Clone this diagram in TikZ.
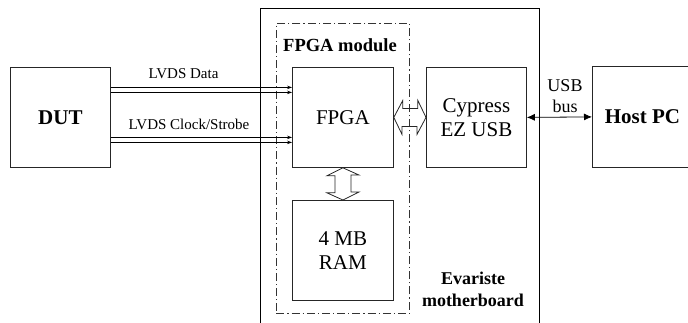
\documentclass[tikz,border=0pt]{standalone}
\usepackage{fontspec}
\setmainfont{Liberation Serif}
\usetikzlibrary{arrows.meta,calc}
\begin{document}
\begin{tikzpicture}[x=1pt,y=-1pt,
  blk/.style={draw=black!85,line width=0.8pt,anchor=north west,inner sep=0pt,align=center},
  lvds/.style={line width=0.6pt,-{Stealth[length=5pt,width=3.5pt]}},
  hollow/.style={draw=black!85,line width=0.8pt,line join=miter},
  lbl/.style={font=\fontsize{15}{17}\selectfont,inner sep=0pt}]
\useasboundingbox (0,0) rectangle (688,322);
\clip (0,0) rectangle (688,322);
% boxes
\node[blk,minimum width=100pt,minimum height=100pt,font=\fontsize{21}{23}\selectfont\bfseries] (dut) at (10,67) {DUT};
\node[draw=black,line width=1.3pt,anchor=north west,minimum width=279pt,minimum height=330pt,inner sep=0pt] (mb) at (260,8) {};
\node[draw=black!80,line width=0.8pt,dash pattern=on 8pt off 3pt on 1.2pt off 3pt,anchor=north west,minimum width=133pt,minimum height=290pt,inner sep=0pt] (mod) at (276,23) {};
\node[blk,minimum width=101pt,minimum height=100pt,font=\fontsize{21}{23}\selectfont] (fpga) at (292,67) {FPGA};
\node[blk,minimum width=101pt,minimum height=100pt,font=\fontsize{21}{24}\selectfont] (ram) at (292,200) {4 MB\\RAM};
\node[blk,minimum width=100pt,minimum height=100pt,font=\fontsize{21}{24}\selectfont] (cyp) at (426,67) {Cypress\\EZ USB};
\node[blk,minimum width=100pt,minimum height=101pt,font=\fontsize{21}{23}\selectfont\bfseries] (host) at (592,66) {Host PC};
% labels
\node[font=\fontsize{18.5}{20}\selectfont\bfseries,inner sep=0pt] (modlbl) at (340,45) {FPGA module};
\node[font=\fontsize{18}{22}\selectfont\bfseries,inner sep=0pt,align=center] (mblbl) at (473,289) {Evariste\\motherboard};
% LVDS lines
\path (dut.east) ++(0,-30) coordinate (d1) ++(0,5) coordinate (d2);
\path (dut.east) ++(0,20) coordinate (c1) ++(0,5) coordinate (c2);
\draw[lvds] (d1) -- (d1 -| fpga.west);
\draw[lvds] (d2) -- (d2 -| fpga.west);
\draw[lvds] (c1) -- (c1 -| fpga.west);
\draw[lvds] (c2) -- (c2 -| fpga.west);
\node[lbl] (l1) at (183.5,74) {LVDS Data};
\node[lbl] (l2) at (189,124) {LVDS Clock/Strobe};
% hollow arrows
\draw[hollow] (fpga.east) -- ++(9,-17) -- ++(0,8) -- ++(15,0) -- ++(0,-8) -- (cyp.west) -- ++(-9,17) -- ++(0,-8) -- ++(-15,0) -- ++(0,8) -- cycle;
\draw[hollow] (fpga.south) -- ++(-16,8) -- ++(8,0) -- ++(0,17) -- ++(-8,0) -- (ram.north) -- ++(16,-8) -- ++(-8,0) -- ++(0,-17) -- ++(8,0) -- cycle;
% USB
\draw[line width=0.8pt,{Latex[length=8pt,width=7pt]}-{Latex[length=8pt,width=7pt]}] (cyp.east) -- (host.west);
\node[font=\fontsize{18}{21}\selectfont,inner sep=0pt,align=center] (usb) at (565,96) {USB\\bus};
\end{tikzpicture}
\end{document}
